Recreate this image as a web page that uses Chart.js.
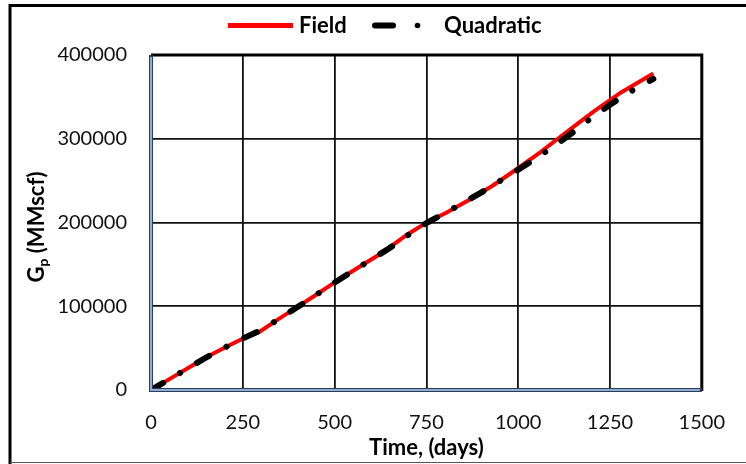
<!DOCTYPE html>
<html>
<head>
<meta charset="utf-8">
<script src="https://cdn.jsdelivr.net/npm/chart.js@4.4.1/dist/chart.umd.min.js"></script>
<style>
  html, body { margin: 0; padding: 0; background: #fff; }
  #wrap { width: 746px; height: 464px; position: relative; }
</style>
</head>
<body>
<div id="wrap"><canvas id="gpChart" width="746" height="464"></canvas></div>
<script>
// Field production history (days, MMscf)
const fieldDays = [0, 50, 100, 150, 211, 252, 296, 346, 400, 453, 503, 571, 634, 696, 750, 804, 866, 929, 974, 1059, 1099, 1162, 1207, 1279, 1368];
const fieldGp = [0, 13000, 26000, 39000, 52900, 61700, 69600, 84400, 99500, 114600, 129300, 148100, 165100, 185100, 199800, 211700, 226900, 243600, 257000, 283500, 297000, 318000, 333000, 355000, 377800];

// Quadratic fit
const quadDays = [0, 50, 100, 150, 200, 250, 300, 350, 400, 450, 500, 550, 600, 650, 700, 750, 800, 850, 900, 950, 1000, 1050, 1100, 1150, 1200, 1250, 1300, 1368];
const quadGp = [0, 12800, 25800, 38800, 50500, 61500, 71500, 85200, 99400, 113700, 128300, 142200, 155800, 169500, 185000, 199300, 211200, 223300, 236000, 249500, 263000, 277000, 292000, 308000, 325000, 340500, 355000, 371500];

const xTicks = [0, 250, 500, 750, 1000, 1250, 1500];
const yTicks = [0, 100000, 200000, 300000, 400000];

const FONT = 'Lato, "Open Sans", sans-serif';

function toPoints(xs, ys) {
    return xs.map((x, i) => ({ x: x, y: ys[i] }));
}

// Page frame, plot border, legend and y title
const decorPlugin = {
    id: 'decor',
    beforeDraw(chart) {
        const ctx = chart.ctx;
        ctx.save();
        ctx.fillStyle = '#ffffff';
        ctx.fillRect(0, 0, chart.width, chart.height);
        ctx.restore();
    },
    afterDraw(chart) {
        const ctx = chart.ctx;
        const a = chart.chartArea;
        ctx.save();

        // outer frame
        ctx.strokeStyle = '#000';
        ctx.lineWidth = 3;
        ctx.beginPath();
        ctx.moveTo(10, 464);
        ctx.lineTo(10, 5.5);
        ctx.lineTo(746, 5.5);
        ctx.stroke();
        ctx.strokeStyle = '#555';
        ctx.lineWidth = 1;
        ctx.beginPath();
        ctx.moveTo(10, 462.5);
        ctx.lineTo(746, 462.5);
        ctx.stroke();

        // plot border: top/right black, left/bottom blue axis lines
        ctx.strokeStyle = '#000';
        ctx.lineWidth = 3;
        ctx.beginPath();
        ctx.moveTo(a.left, a.top);
        ctx.lineTo(a.right, a.top);
        ctx.lineTo(a.right, a.bottom + 1);
        ctx.stroke();
        ctx.strokeStyle = '#2b3f5c';
        ctx.lineWidth = 4;
        ctx.beginPath();
        ctx.moveTo(a.left, a.top);
        ctx.lineTo(a.left, a.bottom);
        ctx.lineTo(a.right, a.bottom);
        ctx.stroke();
        ctx.strokeStyle = '#8fabd0';
        ctx.lineWidth = 2;
        ctx.beginPath();
        ctx.moveTo(a.left, a.top + 2);
        ctx.lineTo(a.left, a.bottom);
        ctx.lineTo(a.right - 2, a.bottom);
        ctx.stroke();

        // legend
        const ds = chart.data.datasets;
        const ly = 25.5;
        ctx.strokeStyle = ds[0].borderColor;
        ctx.lineWidth = 5;
        ctx.lineCap = 'butt';
        ctx.beginPath();
        ctx.moveTo(228, ly);
        ctx.lineTo(293, ly);
        ctx.stroke();

        ctx.strokeStyle = ds[1].borderColor;
        ctx.lineWidth = ds[1].borderWidth;
        ctx.lineCap = 'round';
        ctx.beginPath();
        ctx.moveTo(375, ly);
        ctx.lineTo(393, ly);
        ctx.stroke();
        ctx.fillStyle = ds[1].borderColor;
        ctx.beginPath();
        ctx.arc(417.5, ly, 2.8, 0, Math.PI * 2);
        ctx.fill();

        ctx.fillStyle = '#000';
        ctx.font = 'bold 22px ' + FONT;
        ctx.textBaseline = 'alphabetic';
        ctx.textAlign = 'left';
        ctx.fillText(ds[0].label, 299, 33);
        ctx.fillText(ds[1].label, 444, 33);

        // y axis title with subscript
        ctx.translate(37, 227);
        ctx.rotate(-Math.PI / 2);
        const big = 'bold 22px ' + FONT;
        const small = 'bold 14px ' + FONT;
        ctx.font = big;
        const wG = ctx.measureText('G').width;
        const wRest = ctx.measureText(' (MMscf)').width;
        ctx.font = small;
        const wP = ctx.measureText('p').width;
        let x0 = -(wG + wP + wRest) / 2;
        ctx.textBaseline = 'middle';
        ctx.font = big;
        ctx.fillText('G', x0, 0);
        ctx.font = small;
        ctx.fillText('p', x0 + wG, 6);
        ctx.font = big;
        ctx.fillText(' (MMscf)', x0 + wG + wP, 0);

        ctx.restore();
    }
};

new Chart(document.getElementById('gpChart'), {
    type: 'scatter',
    data: {
        datasets: [{
            label: 'Field',
            data: toPoints(fieldDays, fieldGp),
            showLine: true,
            borderColor: '#ff0000',
            borderWidth: 4,
            pointRadius: 0,
            tension: 0,
            order: 1,
        }, {
            label: 'Quadratic',
            data: toPoints(quadDays, quadGp),
            showLine: true,
            borderColor: '#000000',
            borderWidth: 6,
            borderDash: [14, 19.6, 0.1, 19.7],
            borderCapStyle: 'round',
            pointRadius: 0,
            tension: 0,
            order: 0,
        }]
    },
    options: {
        responsive: false,
        animation: false,
        layout: { padding: { top: 55, right: 37, left: 0, bottom: 0 } },
        plugins: {
            legend: { display: false },
            tooltip: { enabled: false },
        },
        scales: {
            x: {
                type: 'linear',
                min: 0,
                max: 1500,
                afterBuildTicks: (s) => { s.ticks = xTicks.map(v => ({ value: v })); },
                afterFit: (s) => { s.height = 74; },
                ticks: {
                    padding: 21,
                    color: '#111',
                    font: { family: FONT, size: 20 },
                    callback: (v) => String(v),
                },
                grid: { color: '#111', lineWidth: 1.8, drawTicks: false },
                border: { display: false },
                title: {
                    display: true,
                    text: 'Time, (days)',
                    color: '#000',
                    font: { family: FONT, size: 22, weight: 'bold' },
                    padding: { top: 0, bottom: 3 },
                },
            },
            y: {
                min: 0,
                max: 400000,
                afterBuildTicks: (s) => { s.ticks = yTicks.map(v => ({ value: v })); },
                afterFit: (s) => { s.width = 151; },
                ticks: {
                    padding: 24,
                    color: '#111',
                    font: { family: FONT, size: 20 },
                    callback: (v) => String(v),
                },
                grid: { color: '#111', lineWidth: 1.8, drawTicks: false },
                border: { display: false },
            }
        }
    },
    plugins: [decorPlugin]
});
</script>
</body>
</html>
